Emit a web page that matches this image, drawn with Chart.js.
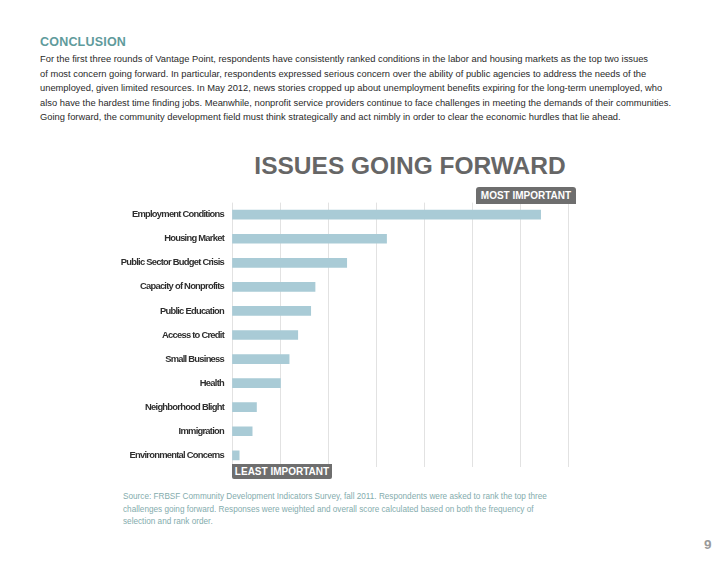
<!DOCTYPE html>
<html>
<head>
<meta charset="utf-8">
<script src="https://cdn.jsdelivr.net/npm/chart.js@4"></script>
<style>
  body { margin: 0; background: #fff; font-family: "Liberation Sans", Arial, sans-serif; }
  #page { position: relative; width: 728px; height: 563px; overflow: hidden; }
  .abs { position: absolute; white-space: nowrap; }
  #head { left: 40px; top: 35px; font-size: 12.5px; font-weight: bold; color: #5f9b9c; letter-spacing: 0.2px; }
  #body { left: 40px; top: 52px; font-size: 9.35px; line-height: 14.5px; color: #2a2a2a; }
  #title { left: 0; width: 820px; top: 152px; text-align: center; font-size: 24.5px; font-weight: bold; color: #666; }
  .tag { background: #6e6e6e; color: #fff; font-size: 10px; font-weight: bold; text-align: center; }
  #most { left: 476px; top: 187px; width: 100px; height: 17px; line-height: 17px; border-radius: 3px 3px 0 0; }
  #least { left: 232px; top: 464px; width: 100px; height: 15px; line-height: 15px; border-radius: 0 0 2px 2px; }
  #src { left: 123px; top: 491px; font-size: 8.2px; line-height: 12.5px; color: #84acad; }
  #num { left: 704px; top: 537px; font-size: 13.5px; font-weight: bold; color: #9a9a9a; }
  #wrap { position: absolute; left: 0; top: 189px; width: 580px; height: 292px; }
</style>
</head>
<body>
<div id="page">
  <div class="abs" id="head">CONCLUSION</div>
  <div class="abs" id="body">
    For the first three rounds of Vantage Point, respondents have consistently ranked conditions in the labor and housing markets as the top two issues<br>
    of most concern going forward. In particular, respondents expressed serious concern over the ability of public agencies to address the needs of the<br>
    unemployed, given limited resources. In May 2012, news stories cropped up about unemployment benefits expiring for the long-term unemployed, who<br>
    also have the hardest time finding jobs. Meanwhile, nonprofit service providers continue to face challenges in meeting the demands of their communities.<br>
    Going forward, the community development field must think strategically and act nimbly in order to clear the economic hurdles that lie ahead.
  </div>
  <div class="abs" id="title">ISSUES GOING FORWARD</div>
  <div id="wrap"><canvas id="issuesGraph"></canvas></div>
  <div class="abs tag" id="most">MOST IMPORTANT</div>
  <div class="abs tag" id="least">LEAST IMPORTANT</div>
  <div class="abs" id="src">
    Source: FRBSF Community Development Indicators Survey, fall 2011. Respondents were asked to rank the top three<br>
    challenges going forward. Responses were weighted and overall score calculated based on both the frequency of<br>
    selection and rank order.
  </div>
  <div class="abs" id="num">9</div>
</div>

<script>
// data (score units = one gridline step)
var issues = ['Employment Conditions', 'Housing Market', 'Public Sector Budget Crisis',
              'Capacity of Nonprofits', 'Public Education', 'Access to Credit',
              'Small Business', 'Health', 'Neighborhood Blight', 'Immigration',
              'Environmental Concerns'];
var scores = [6.43, 3.22, 2.39, 1.73, 1.64, 1.37, 1.19, 1.01, 0.51, 0.42, 0.15];
var scoreMin = 0;
var scoreMax = 7;

// squeeze the labels a bit, the original uses a condensed face
const tightText = {
    id: 'tightText',
    beforeDraw: function (chart) {
        chart.ctx.letterSpacing = '-0.75px';
    }
};

const ctx = document.getElementById('issuesGraph').getContext('2d');
const issuesGraph = new Chart(ctx, {
    type: 'bar',
    data: {
        labels: issues,
        datasets: [{
            data: scores,
            backgroundColor: '#a9cbd6',
            borderWidth: 0,
            barThickness: 9,
        }]
    },
    options: {
        indexAxis: 'y',
        responsive: true,
        maintainAspectRatio: false,
        animation: false,
        layout: { padding: { top: 0, right: 12, bottom: 0, left: 0 } },
        plugins: {
            legend: { display: false },
            tooltip: { enabled: false },
        },
        scales: {
            x: {
                min: scoreMin,
                max: scoreMax,
                ticks: { display: false, stepSize: 1 },
                grid: { color: '#e2e2e2', drawTicks: false },
                border: { display: false },
            },
            y: {
                afterFit: function (scale) { scale.width = 232; },
                grid: { display: false, tickLength: 0 },
                border: { display: false },
                ticks: {
                    padding: 8,
                    color: '#2e2e2e',
                    font: { family: '"Liberation Sans", Arial', size: 9.4, weight: 'bold' },
                },
            },
        },
    },
    plugins: [tightText],
});
</script>
</body>
</html>
